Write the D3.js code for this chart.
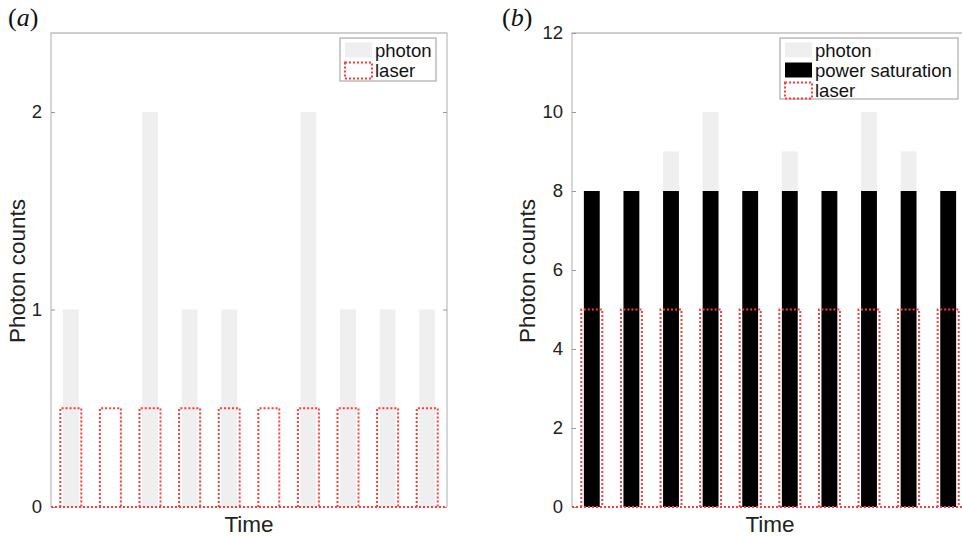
<!DOCTYPE html>
<html>
<head>
<meta charset="utf-8">
<script src="https://cdn.jsdelivr.net/npm/d3@7/dist/d3.min.js"></script>
<style>
  html, body { margin: 0; padding: 0; background: #fff; }
  svg { display: block; font-family: "Liberation Sans", Arial, Helvetica, sans-serif; }
</style>
</head>
<body>
<svg id="chart" width="962" height="537"></svg>
<script>
// ---------- data ----------
const slots = [1, 2, 3, 4, 5, 6, 7, 8, 9, 10];
const photonA = [1, 0, 2, 1, 1, 0, 2, 1, 1, 1];
const laserA = [0.5, 0.5, 0.5, 0.5, 0.5, 0.5, 0.5, 0.5, 0.5, 0.5];
const photonB = [8, 8, 9, 10, 8, 9, 8, 10, 9, 8];
const saturationB = [8, 8, 8, 8, 8, 8, 8, 8, 8, 8];
const laserB = [5, 5, 5, 5, 5, 5, 5, 5, 5, 5];
const ticksA = [0, 1, 2];
const ticksB = [0, 2, 4, 6, 8, 10, 12];
const yMaxA = 2.4;
const yMaxB = 12;

const svg = d3.select("#chart");
const GRAY_FILL = "#efefef";
const AXIS_COL = "#c0c0c0";
const RED = "#ff3b3b";
const DASH = "2,2";
const DASH_W = 2;

function panel(opts) {
  const { x0, x1, y0, y1, yMax, ticks, series, legend, label, legendBox } = opts;
  const x = d3.scaleLinear().domain([0.5, 10.5]).range([x0, x1]);
  const y = d3.scaleLinear().domain([0, yMax]).range([y1, y0]);
  const unit = x(1) - x(0);
  const g = svg.append("g");

  // bars
  series.forEach(s => {
    const w = unit * s.width;
    if (s.type === "fill") {
      g.append("g").selectAll("rect").data(slots).join("rect")
        .attr("x", d => x(d) - w / 2)
        .attr("width", w)
        .attr("y", (d, i) => y(s.values[i]))
        .attr("height", (d, i) => y(0) - y(s.values[i]))
        .attr("fill", s.color);
    } else {
      g.append("g").selectAll("path").data(slots).join("path")
        .attr("d", (d, i) => {
          const l = x(d) - w / 2, r = x(d) + w / 2, t = y(s.values[i]), b = y(0);
          return `M${l},${b}V${t}H${r}V${b}`;
        })
        .attr("fill", "none")
        .attr("stroke", RED)
        .attr("stroke-width", DASH_W)
        .attr("stroke-dasharray", DASH);
    }
  });

  // axes box
  g.append("path")
    .attr("d", `M${x0},${y1}V${y0}H${x1}V${y1}`)
    .attr("fill", "none").attr("stroke", AXIS_COL).attr("stroke-width", 1.3);

  const yAxis = d3.axisLeft(y).tickValues(ticks).tickSize(-4).tickPadding(9).tickFormat(d3.format("d"));
  const ya = g.append("g").attr("transform", `translate(${x0},0)`).call(yAxis);
  ya.select(".domain").remove();
  ya.selectAll("line").attr("stroke", "#999");
  ya.selectAll("text").attr("font-size", 18.5).attr("fill", "#222")
    .attr("font-family", "'Liberation Sans', Arial, sans-serif");

  const yAxisR = d3.axisRight(y).tickValues(ticks.filter(t => t < yMax)).tickSize(-4).tickFormat("");
  const yr = g.append("g").attr("transform", `translate(${x1},0)`).call(yAxisR);
  yr.select(".domain").remove();
  yr.selectAll("line").attr("stroke", "#999");

  // red dashed baseline
  g.append("line")
    .attr("x1", x0).attr("x2", x1).attr("y1", y(0)).attr("y2", y(0))
    .attr("stroke", RED).attr("stroke-width", DASH_W).attr("stroke-dasharray", DASH);

  // axis labels
  g.append("text")
    .attr("transform", `translate(${opts.ylabX},${(y0 + y1) / 2 + 1}) rotate(-90)`)
    .attr("text-anchor", "middle").attr("font-size", 22.5).attr("fill", "#222")
    .text("Photon counts");
  g.append("text")
    .attr("x", (x0 + x1) / 2).attr("y", 532)
    .attr("text-anchor", "middle").attr("font-size", 22.5).attr("fill", "#222")
    .text("Time");

  // panel label
  const pl = g.append("text").attr("x", opts.labX).attr("y", 26)
    .attr("font-family", "'Liberation Serif', 'Times New Roman', serif").attr("font-size", 26).attr("fill", "#111");
  pl.append("tspan").text("(");
  pl.append("tspan").attr("font-style", "italic").text(label);
  pl.append("tspan").text(")");

  // legend
  const lg = g.append("g");
  lg.append("rect")
    .attr("x", legendBox.x).attr("y", legendBox.y)
    .attr("width", legendBox.w).attr("height", legendBox.h)
    .attr("fill", "#fff").attr("stroke", "#aaa").attr("stroke-width", 1.2);
  legend.forEach((e, i) => {
    const cy = legendBox.y + 12 + i * 20;
    const sx = legendBox.x + 5;
    if (e.type === "fill") {
      lg.append("rect").attr("x", sx).attr("y", cy - 7.5).attr("width", 27).attr("height", 15).attr("fill", e.color);
    } else {
      lg.append("rect").attr("x", sx).attr("y", cy - 7.5).attr("width", 27).attr("height", 16)
        .attr("fill", "none").attr("stroke", RED).attr("stroke-width", DASH_W).attr("stroke-dasharray", DASH);
    }
    lg.append("text").attr("x", sx + 30).attr("y", cy + 6.5)
      .attr("font-size", 18.5).attr("fill", "#111").text(e.name);
  });
}

panel({
  x0: 51, x1: 447, y0: 33, y1: 507, yMax: yMaxA, ticks: ticksA, label: "a", labX: 8, ylabX: 25,
  series: [
    { type: "fill", values: photonA, color: GRAY_FILL, width: 0.4 },
    { type: "dash", values: laserA, width: 0.53 }
  ],
  legend: [
    { name: "photon", type: "fill", color: GRAY_FILL },
    { name: "laser", type: "dash" }
  ],
  legendBox: { x: 340, y: 38, w: 96, h: 43 }
});

panel({
  x0: 572, x1: 968, y0: 33, y1: 507, yMax: yMaxB, ticks: ticksB, label: "b", labX: 502, ylabX: 535,
  series: [
    { type: "fill", values: photonB, color: GRAY_FILL, width: 0.4 },
    { type: "fill", values: saturationB, color: "#000", width: 0.4 },
    { type: "dash", values: laserB, width: 0.53 }
  ],
  legend: [
    { name: "photon", type: "fill", color: GRAY_FILL },
    { name: "power saturation", type: "fill", color: "#000" },
    { name: "laser", type: "dash" }
  ],
  legendBox: { x: 780, y: 38, w: 178, h: 61 }
});
</script>
</body>
</html>
